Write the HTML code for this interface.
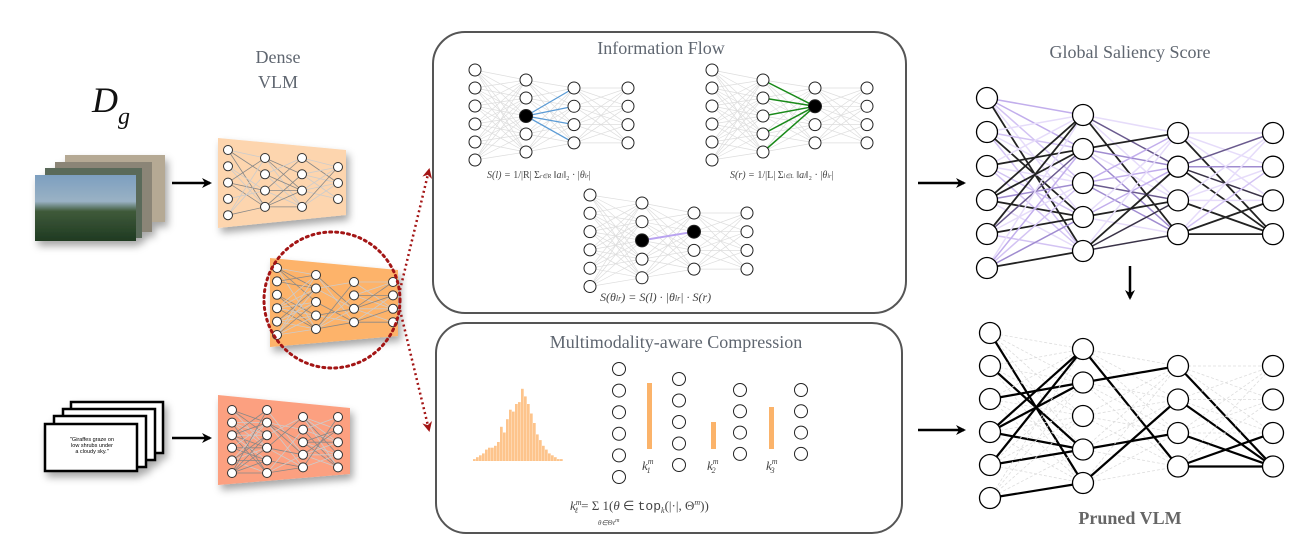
<!DOCTYPE html>
<html><head><meta charset="utf-8"><style>
html,body{margin:0;padding:0;background:#fff;width:1308px;height:552px;overflow:hidden}
svg{display:block}
.t{font-family:"Liberation Serif",serif;fill:#5f6670}
.m{font-family:"Liberation Serif",serif;fill:#444;font-style:italic}
</style></head><body>
<svg id="s" width="1308" height="552" viewBox="0 0 1308 552" xmlns="http://www.w3.org/2000/svg">
<defs>
<marker id="ah" markerWidth="10" markerHeight="10" refX="8" refY="5" orient="auto" markerUnits="userSpaceOnUse"><path d="M0,0 L10,5 L0,10 L3,5 z" fill="#000"/></marker>
<marker id="rh" markerWidth="10" markerHeight="10" refX="8" refY="5" orient="auto" markerUnits="userSpaceOnUse"><path d="M0,0 L10,5 L0,10 L3,5 z" fill="#a31515"/></marker>
<filter id="sh" x="-20%" y="-20%" width="150%" height="150%"><feDropShadow dx="3" dy="5" stdDeviation="4" flood-opacity="0.35"/></filter>
<linearGradient id="sky" x1="0" y1="0" x2="0" y2="1"><stop offset="0" stop-color="#7d9fc0"/><stop offset="0.4" stop-color="#9ab2c4"/><stop offset="0.55" stop-color="#3f5a3a"/><stop offset="1" stop-color="#1f3a22"/></linearGradient>
</defs>
<!-- Left -->
<text x="92" y="112" font-family="Liberation Serif,serif" font-style="italic" font-size="36" fill="#111">D</text>
<text x="118" y="124" font-family="Liberation Serif,serif" font-style="italic" font-size="24" fill="#111">g</text>
<text class="t" x="278" y="63" font-size="18" text-anchor="middle">Dense</text>
<text class="t" x="278" y="88" font-size="18" text-anchor="middle">VLM</text>
<g filter="url(#sh)">
<rect x="65" y="155" width="100" height="67" fill="#b5a994"/>
<rect x="55" y="162" width="97" height="70" fill="#8b8577"/>
<rect x="45" y="168" width="97" height="70" fill="#5a6a5a"/>
<rect x="35" y="175" width="101" height="66" fill="url(#sky)"/>
</g>
<g filter="url(#sh)">
<rect x="71" y="402" width="92" height="51" fill="#fff" stroke="#000" stroke-width="2.5"/>
<rect x="63" y="409" width="92" height="51" fill="#fff" stroke="#000" stroke-width="2.5"/>
<rect x="54" y="416" width="92" height="51" fill="#fff" stroke="#000" stroke-width="2.5"/>
<rect x="45" y="424" width="92" height="47" fill="#fff" stroke="#000" stroke-width="2.5"/>
</g>
<text x="92" y="441" font-family="Liberation Sans,sans-serif" font-size="5.5" text-anchor="middle">"Giraffes graze on</text>
<text x="92" y="447" font-family="Liberation Sans,sans-serif" font-size="5.5" text-anchor="middle">low shrubs under</text>
<text x="92" y="453" font-family="Liberation Sans,sans-serif" font-size="5.5" text-anchor="middle">a cloudy sky."</text>
<line x1="172" y1="183" x2="210" y2="183" stroke="#000" stroke-width="2.5" marker-end="url(#ah)"/>
<line x1="172" y1="438" x2="210" y2="438" stroke="#000" stroke-width="2.5" marker-end="url(#ah)"/>
<polygon points="218,138 346,150 346,215 218,228" fill="#fdd5ae" filter="url(#sh)"/>
<polygon points="270,258 398,270 398,336 270,347" fill="#fdb36a" filter="url(#sh)"/>
<polygon points="218,395 350,408 350,474 218,485" fill="#fca080" filter="url(#sh)"/>
<g id="nets"></g>
<circle cx="332" cy="300" r="68" fill="none" stroke="#a31515" stroke-width="3" stroke-dasharray="2,4" stroke-linecap="round"/>
<line x1="400" y1="290" x2="429" y2="170" stroke="#a31515" stroke-width="2.5" stroke-dasharray="2,3" marker-end="url(#rh)"/>
<line x1="400" y1="310" x2="429" y2="430" stroke="#a31515" stroke-width="2.5" stroke-dasharray="2,3" marker-end="url(#rh)"/>
<!-- Boxes -->
<rect x="433" y="32" width="473" height="281" rx="32" fill="none" stroke="#555" stroke-width="2"/>
<rect x="436" y="323" width="466" height="210" rx="30" fill="none" stroke="#555" stroke-width="2"/>
<text class="t" x="661" y="54" font-size="18" text-anchor="middle">Information Flow</text>
<text class="t" x="676" y="348" font-size="18" text-anchor="middle">Multimodality-aware Compression</text>
<text class="m" x="487" y="178" font-size="10">S(l) = <tspan font-style="normal">1/|R| Σ</tspan><tspan font-size="6">r∈R</tspan> <tspan font-style="normal">‖</tspan>a<tspan font-size="6">l</tspan><tspan font-style="normal">‖₂ · |</tspan>θ<tspan font-size="6">lr</tspan><tspan font-style="normal">|</tspan></text>
<text class="m" x="730" y="178" font-size="10">S(r) = <tspan font-style="normal">1/|L| Σ</tspan><tspan font-size="6">l∈L</tspan> <tspan font-style="normal">‖</tspan>a<tspan font-size="6">l</tspan><tspan font-style="normal">‖₂ · |</tspan>θ<tspan font-size="6">lr</tspan><tspan font-style="normal">|</tspan></text>
<text class="m" x="600" y="301" font-size="12">S(θ<tspan font-size="8">lr</tspan>) = S(l) · |θ<tspan font-size="8">lr</tspan>| · S(r)</text>
<text class="m" x="642" y="470" font-size="13">k<tspan font-size="8" dy="-6">m</tspan><tspan font-size="8" dx="-7" dy="9">1</tspan></text>
<text class="m" x="707" y="470" font-size="13">k<tspan font-size="8" dy="-6">m</tspan><tspan font-size="8" dx="-7" dy="9">2</tspan></text>
<text class="m" x="766" y="470" font-size="13">k<tspan font-size="8" dy="-6">m</tspan><tspan font-size="8" dx="-7" dy="9">3</tspan></text>
<text class="m" x="570" y="510" font-size="13">k<tspan font-size="8" dy="-5">m</tspan><tspan font-size="8" dx="-7" dy="8">ℓ</tspan><tspan dy="-3" font-style="normal"> =  Σ   1(</tspan>θ<tspan font-style="normal"> ∈ </tspan><tspan font-family="Liberation Mono,monospace" font-style="normal">top</tspan><tspan font-size="8" dy="3">k</tspan><tspan dy="-3" font-style="normal">(|·|, Θ</tspan><tspan font-size="8" dy="-5">m</tspan><tspan dy="5" font-style="normal">))</tspan></text>
<text class="m" x="598" y="525" font-size="7">θ∈Θ<tspan font-size="6">ℓ</tspan><tspan font-size="6" dy="-3">m</tspan></text>
<g id="hist"></g>
<rect x="647" y="383" width="5" height="66" fill="#fbb36a"/>
<rect x="711" y="422" width="5" height="27" fill="#fbb36a"/>
<rect x="769" y="407" width="5" height="42" fill="#fbb36a"/>
<!-- Right -->
<text class="t" x="1130" y="58" font-size="18" text-anchor="middle">Global Saliency Score</text>
<text x="1130" y="524" font-family="Liberation Serif,serif" font-weight="bold" font-size="18" fill="#666" text-anchor="middle">Pruned VLM</text>
<line x1="918" y1="183" x2="964" y2="183" stroke="#000" stroke-width="2.5" marker-end="url(#ah)"/>
<line x1="918" y1="430" x2="964" y2="430" stroke="#000" stroke-width="2.5" marker-end="url(#ah)"/>
<line x1="1130" y1="266" x2="1130" y2="298" stroke="#000" stroke-width="2.5" marker-end="url(#ah)"/>
<g id="big"></g>
</svg>
<script>
var NS="http://www.w3.org/2000/svg";
function el(p,t,a){var e=document.createElementNS(NS,t);for(var k in a)e.setAttribute(k,a[k]);p.appendChild(e);return e;}
var seed=7;function rnd(){seed=(seed*16807)%2147483647;return seed/2147483647;}
var nets=document.getElementById('nets');
function sNet(cols,r,ecol,ew,dense){
 for(var c=0;c<cols.length-1;c++)for(var i=0;i<cols[c].ys.length;i++)for(var j=0;j<cols[c+1].ys.length;j++){
  if(rnd()<dense){var g=ecol?ecol:(rnd()<0.5?'#888':'#ccc');el(nets,'line',{x1:cols[c].x,y1:cols[c].ys[i],x2:cols[c+1].x,y2:cols[c+1].ys[j],stroke:g,'stroke-width':ew});}
 }
 for(c=0;c<cols.length;c++)for(i=0;i<cols[c].ys.length;i++)el(nets,'circle',{cx:cols[c].x,cy:cols[c].ys[i],r:r,fill:'#fff',stroke:'#333','stroke-width':1});
}
function ys(a,n,d){var r=[];for(var i=0;i<n;i++)r.push(a+i*d);return r;}
sNet([{x:228,ys:ys(150,5,16.3)},{x:265,ys:ys(158,4,16.3)},{x:302,ys:ys(158,4,16.3)},{x:338,ys:ys(167,3,16)}],4.5,null,0.8,0.7);
sNet([{x:277,ys:ys(268,6,13.4)},{x:316,ys:ys(275,5,13.5)},{x:354,ys:ys(282,4,13.4)},{x:393,ys:ys(282,4,13.4)}],4.5,null,0.8,0.7);
sNet([{x:232,ys:ys(410,6,12.6)},{x:267,ys:ys(410,6,12.6)},{x:303,ys:ys(417,5,12.6)},{x:338,ys:ys(417,5,12.6)}],4.5,null,0.8,0.7);
function iNet(cols,hl,hc,hw){
 for(var c=0;c<cols.length-1;c++)for(var i=0;i<cols[c].ys.length;i++)for(var j=0;j<cols[c+1].ys.length;j++)
  el(nets,'line',{x1:cols[c].x,y1:cols[c].ys[i],x2:cols[c+1].x,y2:cols[c+1].ys[j],stroke:'#ddd','stroke-width':0.7});
 hl.forEach(function(h){el(nets,'line',{x1:cols[h[0]].x,y1:cols[h[0]].ys[h[1]],x2:cols[h[0]+1].x,y2:cols[h[0]+1].ys[h[2]],stroke:hc,'stroke-width':hw});});
 for(c=0;c<cols.length;c++)for(i=0;i<cols[c].ys.length;i++){var b=cols[c].b===i;el(nets,'circle',{cx:cols[c].x,cy:cols[c].ys[i],r:b?6.5:6,fill:b?'#000':'#fff',stroke:'#222','stroke-width':1});}
}
iNet([{x:475,ys:ys(70,6,18)},{x:526,ys:ys(80,5,18),b:2},{x:574,ys:ys(88,4,18.3)},{x:628,ys:ys(88,4,18.3)}],[[1,2,0],[1,2,1],[1,2,2],[1,2,3]],'#5b9bd5',1.3);
iNet([{x:712,ys:ys(70,6,18)},{x:763,ys:ys(80,5,18)},{x:815,ys:ys(88,4,18.3),b:1},{x:867,ys:ys(88,4,18.3)}],[[1,0,1],[1,1,1],[1,2,1],[1,3,1],[1,4,1]],'#1a8a1a',1.5);
iNet([{x:590,ys:ys(195,6,18.3)},{x:642,ys:ys(203,5,18.7),b:2},{x:694,ys:ys(213,4,18.7),b:1},{x:747,ys:ys(213,4,18.7)}],[[1,2,1]],'#b9a3f0',2);
[[619,369,6,21.6],[679,379,5,21.5],[740,390,4,21.3],[801,390,4,21.3]].forEach(function(c){for(var i=0;i<c[2];i++)el(nets,'circle',{cx:c[0],cy:c[1]+i*c[3],r:6.5,fill:'#fff',stroke:'#222','stroke-width':1});});
var h=document.getElementById('hist');var hs=[1,2,3,4,6,7,7,8,10,18,15,22,27,26,30,31,38,34,30,25,20,14,11,8,6,4,3,2,1,1];
for(var i=0;i<hs.length;i++){var H=hs[i]*1.9;el(h,'rect',{x:473+i*3,y:461-H,width:2.7,height:H,fill:'#fdc48c'});}
var big=document.getElementById('big');
function bNet(cols,top,dark){
 var pal=['#e6dcfa','#d3c3f3','#c2aeec','#a08cd0','#6a5a8e','#3a3348'];
 for(var c=0;c<cols.length-1;c++)for(var i=0;i<cols[c].ys.length;i++)for(var j=0;j<cols[c+1].ys.length;j++){
  var isd=dark.some(function(d){return d[0]==c&&d[1]==i&&d[2]==j;});
  var a={x1:cols[c].x,y1:cols[c].ys[i],x2:cols[c+1].x,y2:cols[c+1].ys[j]};
  if(top){ if(isd){a.stroke='#222';a['stroke-width']=1.8;} else {var r=rnd();a.stroke=pal[Math.floor(r*r*r*6)];a['stroke-width']=1.5;} }
  else { if(isd){a.stroke='#000';a['stroke-width']=2.2;} else {a.stroke='#ddd';a['stroke-width']=0.8;a['stroke-dasharray']='3,2';} }
  el(big,'line',a);
 }
 for(c=0;c<cols.length;c++)for(i=0;i<cols[c].ys.length;i++)el(big,'circle',{cx:cols[c].x,cy:cols[c].ys[i],r:10.5,fill:'#fff',stroke:'#000','stroke-width':1.3});
}
var dark=[[0,0,4],[0,1,3],[0,2,1],[0,3,0],[0,3,1],[0,3,3],[0,4,0],[0,4,3],[0,5,4],[1,0,3],[1,1,0],[1,3,2],[1,4,1],[2,0,3],[2,1,3],[2,2,3],[2,3,2],[2,3,3]];
bNet([{x:987,ys:ys(98,6,34)},{x:1083,ys:ys(115,5,34)},{x:1178,ys:ys(133,4,33.7)},{x:1273,ys:ys(133,4,33.7)}],true,dark);
bNet([{x:990,ys:ys(333,6,33)},{x:1083,ys:ys(349,5,33.5)},{x:1178,ys:ys(366,4,33.5)},{x:1273,ys:ys(366,4,33.5)}],false,dark);
</script>
</body></html>
